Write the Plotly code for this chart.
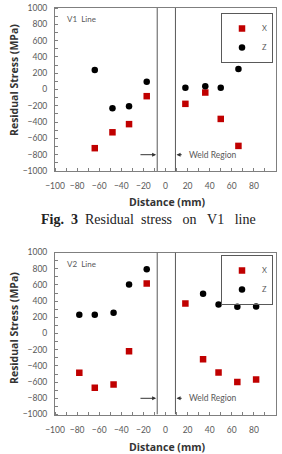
import plotly.graph_objects as go

# ---- data ----
v1_x_dist = [-64, -48, -33, -17, 18, 36, 50, 66]
v1_x_stress = [-720, -525, -425, -82, -176, -37, -361, -692]
v1_z_dist = [-64, -48, -33, -17, 18, 36, 50, 66]
v1_z_stress = [238, -230, -205, 94, 20, 41, 20, 250]

v2_x_dist = [-78, -64, -47, -33, -17, 18, 34, 48, 65, 82]
v2_x_stress = [-486, -671, -630, -218, 617, 370, -317, -481, -600, -568]
v2_z_dist = [-78, -64, -47, -33, -17, 34, 48, 65, 82]
v2_z_stress = [230, 230, 255, 605, 794, 490, 358, 329, 332]

weld_bounds = [-7.5, 9]
x_ticks = [-100, -80, -60, -40, -20, 0, 20, 40, 60, 80, 100]
y_ticks = [-1000, -800, -600, -400, -200, 0, 200, 400, 600, 800, 1000]

W, H = 282, 454
RED = "#C00000"
GRAY = "#595959"
FRAME = "#7f7f7f"
TICKFONT = dict(family="Lato", size=8.5, color=GRAY)
TITLEFONT = dict(family="Open Sans", size=10.5, color="#333333")

fig = go.Figure()

def py(p):
    return 1 - p / H

panels = [
    dict(xa="x", ya="y", xd=(v1_x_dist, v1_x_stress), zd=(v1_z_dist, v1_z_stress),
         top=8, bot=171, label="V1  Line", legend="legend", ytc=80, xtc=202),
    dict(xa="x2", ya="y2", xd=(v2_x_dist, v2_x_stress), zd=(v2_z_dist, v2_z_stress),
         top=252.5, bot=414.5, label="V2  Line", legend="legend2", ytc=328, xtc=447),
]

for i, p in enumerate(panels):
    fig.add_trace(go.Scatter(x=p["xd"][0], y=p["xd"][1], mode="markers", name="X",
                             marker=dict(symbol="square", size=6.5, color=RED),
                             xaxis=p["xa"], yaxis=p["ya"], legend=p["legend"]))
    fig.add_trace(go.Scatter(x=p["zd"][0], y=p["zd"][1], mode="markers", name="Z",
                             marker=dict(symbol="circle", size=6.5, color="black"),
                             xaxis=p["xa"], yaxis=p["ya"], legend=p["legend"]))
    sfx = "" if i == 0 else str(i + 1)
    axcommon = dict(showgrid=False, zeroline=False, showline=True, linecolor=FRAME,
                    linewidth=1, mirror=True, tickfont=TICKFONT, automargin=False)
    fig.layout["xaxis" + sfx] = dict(
        axcommon, domain=[55 / W, 276 / W], range=[-100, 100], tickvals=x_ticks,
        anchor="y" + sfx, ticks="outside", ticklen=7, tickcolor="rgba(0,0,0,0)",
        minor=dict(ticks="inside", ticklen=3, tickcolor=FRAME, dtick=10, tick0=0))
    fig.layout["yaxis" + sfx] = dict(
        axcommon, domain=[py(p["bot"]), py(p["top"])], range=[-1000, 1000], tickvals=y_ticks,
        anchor="x" + sfx, ticks="outside", ticklen=5, tickcolor="rgba(0,0,0,0)",
        minor=dict(ticks="inside", ticklen=3, tickcolor=FRAME, dtick=100, tick0=0))
    # axis titles
    fig.add_annotation(xref="paper", yref="paper", x=14 / W, y=py(p["ytc"]), textangle=-90,
                       text="<b>Residual Stress (MPa)</b>", showarrow=False, font=TITLEFONT,
                       xanchor="center", yanchor="middle")
    fig.add_annotation(xref="paper", yref="paper", x=167 / W, y=py(p["xtc"]),
                       text="<b>Distance (mm)</b>", showarrow=False, font=TITLEFONT,
                       xanchor="center", yanchor="middle")
    for wb in weld_bounds:
        fig.add_shape(type="line", xref=p["xa"], yref=p["ya"], x0=wb, x1=wb, y0=-1000, y1=1000,
                      line=dict(color="#595959", width=1))
    fig.add_annotation(xref=p["xa"], yref=p["ya"], x=-91, y=860, text=p["label"], showarrow=False,
                       xanchor="left", yanchor="middle", font=dict(family="Lato", size=8, color=GRAY))
    fig.add_annotation(xref=p["xa"], yref=p["ya"], x=weld_bounds[0] - 1, y=-800, ax=-24, ay=-800,
                       axref=p["xa"], ayref=p["ya"], text="", showarrow=True, arrowhead=2,
                       arrowsize=0.8, arrowwidth=1, arrowcolor="#333333")
    fig.add_annotation(xref=p["xa"], yref=p["ya"], x=weld_bounds[1] + 1, y=-800, ax=16, ay=-800,
                       axref=p["xa"], ayref=p["ya"], text="", showarrow=True, arrowhead=2,
                       arrowsize=0.8, arrowwidth=1, arrowcolor="#333333")
    fig.add_annotation(xref=p["xa"], yref=p["ya"], x=19, y=-800, text="Weld Region", showarrow=False,
                       xanchor="left", yanchor="middle", font=dict(family="Lato", size=8.5, color=GRAY))

leg_common = dict(bordercolor="#595959", borderwidth=1, bgcolor="rgba(255,255,255,0)",
                  font=dict(family="Lato", size=7.5, color=GRAY), xanchor="right", yanchor="top",
                  itemwidth=30, tracegroupgap=0)
fig.update_layout(
    legend=dict(leg_common, x=273 / W, y=py(13)),
    legend2=dict(leg_common, x=273 / W, y=py(255)),
)

fig.add_annotation(xref="paper", yref="paper", x=148 / W, y=py(219), showarrow=False,
                   text="<b>Fig.&nbsp;&nbsp;3</b>&nbsp;&nbsp;Residual&nbsp;&nbsp;stress&nbsp;&nbsp;&nbsp;on&nbsp;&nbsp;&nbsp;V1&nbsp;&nbsp;&nbsp;line",
                   font=dict(family="Liberation Serif", size=14, color="#222222"),
                   xanchor="center", yanchor="middle")

fig.update_layout(width=W, height=H, margin=dict(l=0, r=0, t=0, b=0),
                  paper_bgcolor="white", plot_bgcolor="white", showlegend=True)

fig.write_html("out.html")
